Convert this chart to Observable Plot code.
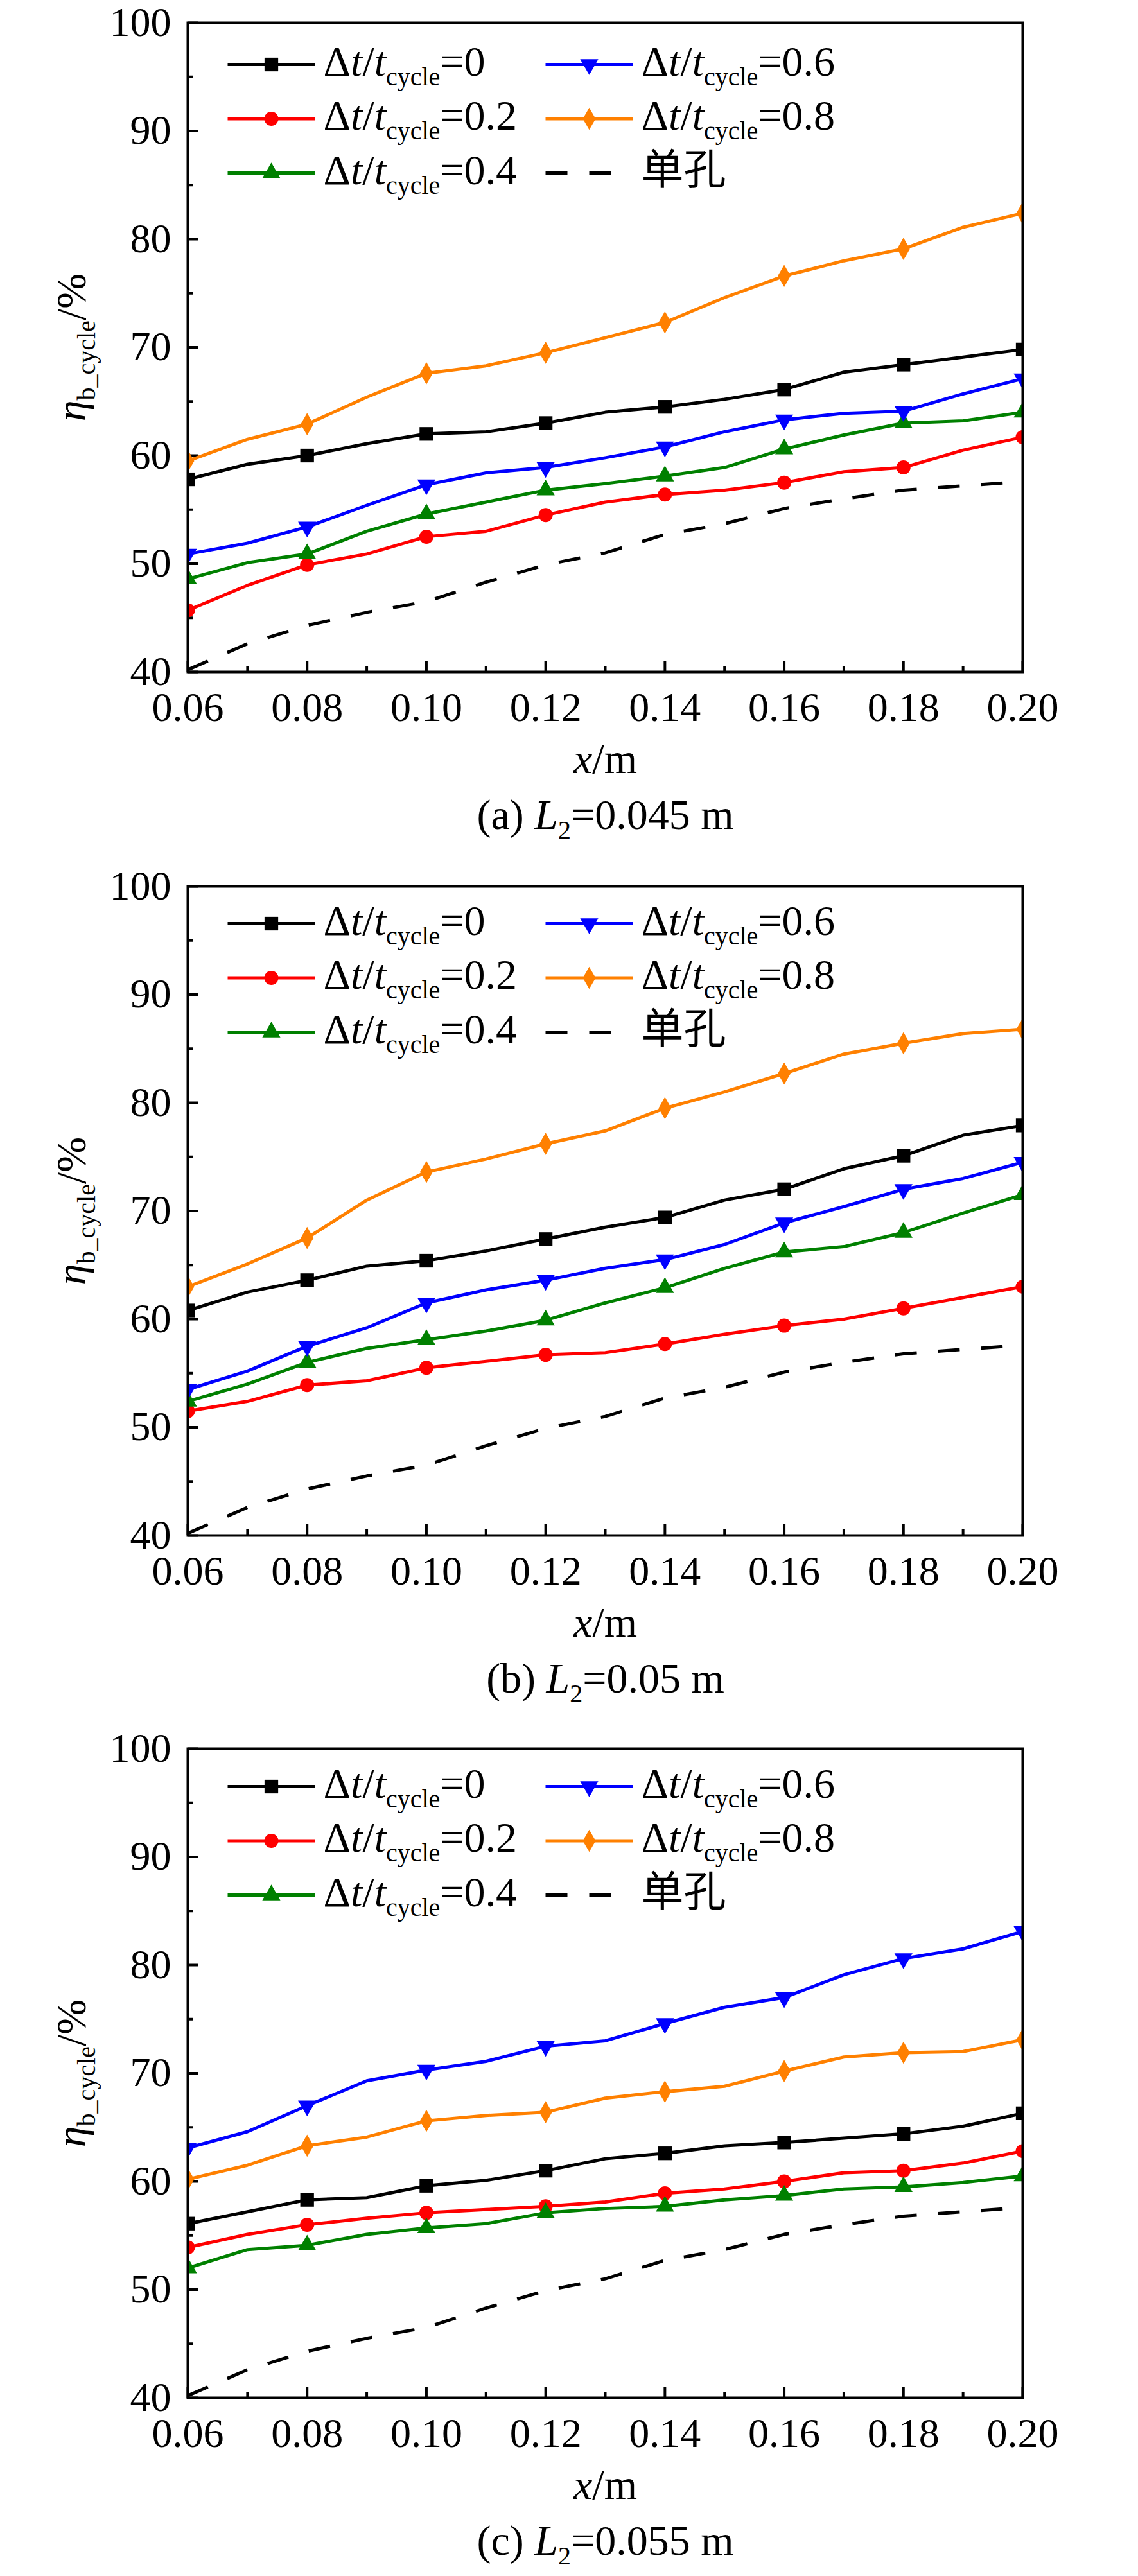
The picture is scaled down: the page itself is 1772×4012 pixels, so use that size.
<!DOCTYPE html>
<html>
<head>
<meta charset="utf-8">
<script src="https://cdn.jsdelivr.net/npm/d3@7"></script>
<script src="https://cdn.jsdelivr.net/npm/@observablehq/plot@0.6"></script>
<style>
  html, body { margin: 0; padding: 0; background: #fff; }
  svg { display: block; }
  text { white-space: pre; }
</style>
</head>
<body>
<div id="chart"></div>
<script>
// ---------- data ----------
const xValues = [0.06, 0.07, 0.08, 0.09, 0.10, 0.11, 0.12, 0.13, 0.14, 0.15, 0.16, 0.17, 0.18, 0.19, 0.20];
const xMajorTicks = [0.06, 0.08, 0.10, 0.12, 0.14, 0.16, 0.18, 0.20];
const xMinorTicks = [0.07, 0.09, 0.11, 0.13, 0.15, 0.17, 0.19];
const yMajorTicks = [40, 50, 60, 70, 80, 90, 100];
const yMinorTicks = [45, 55, 65, 75, 85, 95];

const seriesLabels = ["Δ*t*/*t*_{cycle}=0", "Δ*t*/*t*_{cycle}=0.2", "Δ*t*/*t*_{cycle}=0.4",
                      "Δ*t*/*t*_{cycle}=0.6", "Δ*t*/*t*_{cycle}=0.8", "单孔"];
const panelCaptions = ["(a) *L*_{2}=0.045 m", "(b) *L*_{2}=0.05 m", "(c) *L*_{2}=0.055 m"];
const xLabel = "*x*/m";
const yLabel = "*η*_{b_cycle}/%";

// single hole (same in all panels)
const singleHole = [40.2, 42.6, 44.3, 45.5, 46.5, 48.3, 49.9, 51.0, 52.7, 53.7, 55.1, 56.0, 56.8, 57.2, 57.6];

// (a) L2 = 0.045 m
const a_dt00 = [57.8, 59.2, 60.0, 61.1, 62.0, 62.2, 63.0, 64.0, 64.5, 65.2, 66.1, 67.7, 68.4, 69.1, 69.8];
const a_dt02 = [45.7, 48.0, 49.9, 50.9, 52.5, 53.0, 54.5, 55.7, 56.4, 56.8, 57.5, 58.5, 58.9, 60.5, 61.7];
const a_dt04 = [48.6, 50.1, 50.9, 53.0, 54.6, 55.7, 56.8, 57.4, 58.1, 58.9, 60.6, 61.9, 63.0, 63.2, 64.0];
const a_dt06 = [50.9, 51.9, 53.4, 55.4, 57.3, 58.4, 58.9, 59.8, 60.8, 62.2, 63.3, 63.9, 64.1, 65.7, 67.1];
const a_dt08 = [59.5, 61.5, 62.9, 65.4, 67.6, 68.3, 69.5, 70.9, 72.3, 74.6, 76.6, 78.0, 79.1, 81.1, 82.4];

// (b) L2 = 0.05 m
const b_dt00 = [60.8, 62.5, 63.6, 64.9, 65.4, 66.3, 67.4, 68.5, 69.4, 71.0, 72.0, 73.9, 75.1, 77.0, 77.9];
const b_dt02 = [51.5, 52.4, 53.9, 54.3, 55.5, 56.1, 56.7, 56.9, 57.7, 58.6, 59.4, 60.0, 61.0, 62.0, 63.0];
const b_dt04 = [52.4, 54.0, 56.0, 57.3, 58.1, 58.9, 59.9, 61.5, 62.9, 64.7, 66.2, 66.7, 68.0, 69.8, 71.5];
const b_dt06 = [53.5, 55.2, 57.5, 59.2, 61.5, 62.7, 63.6, 64.7, 65.5, 66.9, 68.9, 70.4, 72.0, 73.0, 74.5];
const b_dt08 = [63.0, 65.1, 67.5, 71.0, 73.6, 74.8, 76.2, 77.4, 79.5, 81.0, 82.7, 84.5, 85.5, 86.4, 86.8];

// (c) L2 = 0.055 m
const c_dt00 = [56.1, 57.2, 58.3, 58.5, 59.6, 60.1, 61.0, 62.1, 62.6, 63.3, 63.6, 64.0, 64.4, 65.1, 66.3];
const c_dt02 = [53.9, 55.1, 56.0, 56.6, 57.1, 57.4, 57.7, 58.1, 58.9, 59.3, 60.0, 60.8, 61.0, 61.7, 62.8];
const c_dt04 = [52.0, 53.7, 54.1, 55.1, 55.7, 56.1, 57.1, 57.5, 57.7, 58.3, 58.7, 59.3, 59.5, 59.9, 60.5];
const c_dt06 = [63.1, 64.6, 67.0, 69.3, 70.3, 71.1, 72.5, 73.0, 74.6, 76.1, 77.0, 79.1, 80.6, 81.5, 83.1];
const c_dt08 = [60.2, 61.5, 63.3, 64.1, 65.6, 66.1, 66.4, 67.7, 68.3, 68.8, 70.2, 71.5, 71.9, 72.0, 73.1];

// ---------- styles ----------
const seriesStyles = [
  {color: "#000000", symbol: "square",   r: 12,   rotate: 0},
  {color: "#ff0000", symbol: "circle",   r: 11,   rotate: 0},
  {color: "#008000", symbol: "triangle", r: 10.5, rotate: 0},
  {color: "#0000ff", symbol: "triangle", r: 10.5, rotate: 180},
  {color: "#ff8000", symbol: "diamond",  r: 10.5, rotate: 0}
];
const FONT = "'Liberation Serif','Times New Roman','Noto Sans CJK SC',serif";
const W = 1772, ML = 292, MR = 180, FH = 1011;
const FW = W - ML - MR;

const panels = [
  {series: [a_dt00, a_dt02, a_dt04, a_dt06, a_dt08], H: 1343, top: 35, legendTop: 65},
  {series: [b_dt00, b_dt02, b_dt04, b_dt06, b_dt08], H: 1343, top: 37, legendTop: 58},
  {series: [c_dt00, c_dt02, c_dt04, c_dt06, c_dt08], H: 1326, top: 37, legendTop: 59}
];

const hLine = { draw(ctx) { ctx.moveTo(-68, 0); ctx.lineTo(68, 0); } };

function richify(svg) {
  const NS = "http://www.w3.org/2000/svg";
  d3.select(svg).selectAll("text").each(function () {
    this.setAttribute("font-family", FONT);
    const s = this.textContent;
    if (!(s.includes("*") || s.includes("_{"))) return;
    const parts = s.split(/(\*[^*]+\*|_\{[^}]+\})/).filter(p => p.length);
    this.textContent = "";
    let shifted = false;
    for (const p of parts) {
      const ts = document.createElementNS(NS, "tspan");
      if (p.startsWith("_{")) {
        ts.textContent = p.slice(2, -1);
        ts.setAttribute("font-size", "40px");
        ts.setAttribute("font-style", "normal");
        ts.setAttribute("dy", "15");
        shifted = true;
      } else {
        if (p.startsWith("*")) {
          ts.textContent = p.slice(1, -1);
          ts.setAttribute("font-style", "italic");
        } else {
          ts.textContent = p;
        }
        if (shifted) { ts.setAttribute("dy", "-15"); shifted = false; }
      }
      this.appendChild(ts);
    }
  });
}

function makePanel(p, idx) {
  const marks = [];
  const toRows = vals => vals.map((v, i) => ({x: xValues[i], y: v, i}));

  // inward ticks (major + minor)
  marks.push(Plot.tickX(xMajorTicks, {x: d => d, insetTop: FH - 17, stroke: "black", strokeWidth: 4}));
  marks.push(Plot.tickX(xMinorTicks, {x: d => d, insetTop: FH - 9, stroke: "black", strokeWidth: 4}));
  marks.push(Plot.tickY(yMajorTicks, {y: d => d, insetRight: FW - 17, stroke: "black", strokeWidth: 4}));
  marks.push(Plot.tickY(yMinorTicks, {y: d => d, insetRight: FW - 9, stroke: "black", strokeWidth: 4}));

  // single hole dashed line
  marks.push(Plot.line(toRows(singleHole), {x: "x", y: "y", stroke: "black", strokeWidth: 5,
    strokeDasharray: "34,33", strokeLinecap: "butt", clip: true}));

  // series
  p.series.forEach((vals, k) => {
    const st = seriesStyles[k];
    const rows = toRows(vals);
    marks.push(Plot.line(rows, {x: "x", y: "y", stroke: st.color, strokeWidth: 5,
      strokeLinejoin: "round", clip: true}));
    marks.push(Plot.dot(rows.filter(d => d.i % 2 === 0), {x: "x", y: "y", symbol: st.symbol,
      r: st.r, rotate: st.rotate, fill: st.color, stroke: "none", clip: true}));
  });

  // legend
  const cols = [{line: 130, text: 211}, {line: 625, text: 706}];
  const rowGap = 84.5;
  seriesLabels.forEach((lab, k) => {
    const col = cols[Math.floor(k / 3)];
    const rowY = p.legendTop + (k % 3) * rowGap;
    const isSingle = k === 5;
    const color = isSingle ? "black" : seriesStyles[k].color;
    marks.push(Plot.dot([lab], {frameAnchor: "top-left", dx: col.line, dy: rowY, symbol: hLine,
      fill: "none", stroke: color, strokeWidth: 5,
      strokeDasharray: isSingle ? "34,34" : null, strokeLinecap: "butt"}));
    if (!isSingle) {
      const st = seriesStyles[k];
      marks.push(Plot.dot([lab], {frameAnchor: "top-left", dx: col.line, dy: rowY, symbol: st.symbol,
        r: st.r, rotate: st.rotate, fill: st.color, stroke: "none"}));
    }
    marks.push(Plot.text([lab], {frameAnchor: "top-left", dx: col.text, dy: rowY + 17, text: d => d,
      textAnchor: "start", lineAnchor: "bottom", fontSize: 66, fontFamily: FONT, fill: "black"}));
  });

  // axes tick labels
  marks.push(Plot.axisX(xMajorTicks, {tickSize: 0, tickPadding: 31, fontSize: 64, fontFamily: FONT,
    tickFormat: d => d.toFixed(2), label: null}));
  marks.push(Plot.axisY(yMajorTicks, {tickSize: 0, tickPadding: 26, fontSize: 64, fontFamily: FONT,
    tickFormat: d => String(d), label: null}));

  // axis labels and caption
  marks.push(Plot.text([xLabel], {frameAnchor: "bottom", dy: 157, text: d => d,
    lineAnchor: "bottom", textAnchor: "middle", fontSize: 66, fontFamily: FONT}));
  marks.push(Plot.text([yLabel], {frameAnchor: "left", dx: -160, rotate: -90, text: d => d,
    lineAnchor: "bottom", textAnchor: "middle", fontSize: 66, fontFamily: FONT}));
  marks.push(Plot.text([panelCaptions[idx]], {frameAnchor: "bottom", dy: 244, text: d => d,
    lineAnchor: "bottom", textAnchor: "middle", fontSize: 66, fontFamily: FONT}));

  marks.push(Plot.frame({stroke: "black", strokeWidth: 4}));

  const chart = Plot.plot({
    width: W,
    height: p.H,
    marginTop: p.top,
    marginBottom: p.H - p.top - FH,
    marginLeft: ML,
    marginRight: MR,
    style: {fontFamily: FONT, fontSize: "66px", background: "#fff", color: "black"},
    x: {domain: [0.06, 0.20]},
    y: {domain: [40, 100]},
    marks
  });
  richify(chart);
  return chart;
}

const host = document.getElementById("chart");
panels.forEach((p, i) => host.appendChild(makePanel(p, i)));
</script>
</body>
</html>
